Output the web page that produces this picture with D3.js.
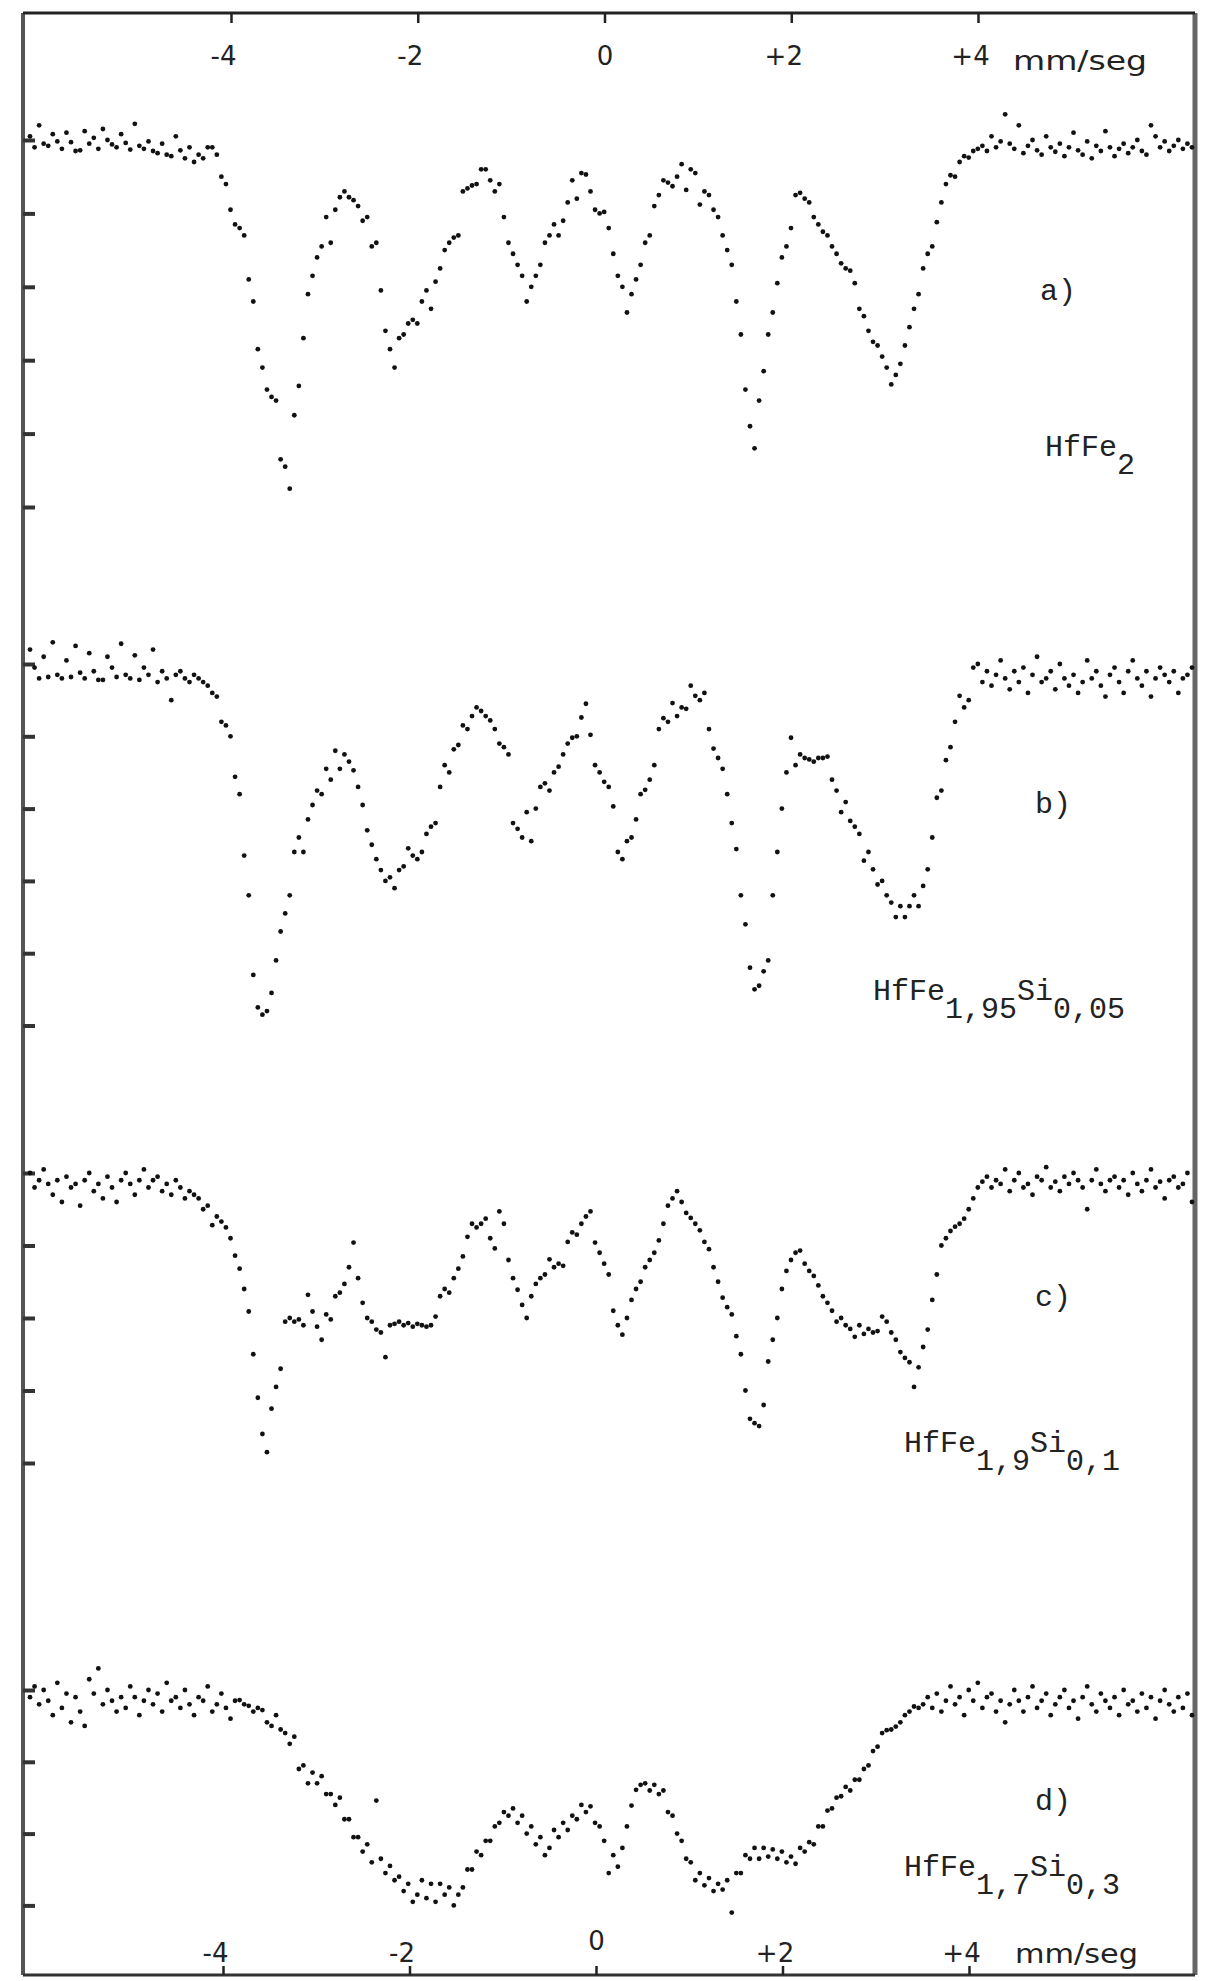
<!DOCTYPE html>
<html>
<head>
<meta charset="utf-8">
<script src="https://cdn.jsdelivr.net/npm/d3@7"></script>
<style>
  body { margin: 0; background: #fff; }
  .hand { font-family: "DejaVu Sans", sans-serif; font-size: 26px; fill: #222; }
  .type { font-family: "Liberation Mono", monospace; font-size: 30px; fill: #222; }
</style>
</head>
<body>
<div id="chart"></div>
<script>
/* global d3 */

// velocity scale, mm/seg
const velTicks = [-4, -2, 0, 2, 4]

// absorption below the baseline, one value per channel (tick marks = 1 unit)
const absA = [
  -0.05, 0.1, -0.2, 0.05, 0.08, -0.08, 0.02, 0.12, -0.1, 0.03,
  0.15, 0.14, -0.12, 0.05, -0.03, 0.12, -0.15, 0.0, 0.06, 0.1,
  -0.08, 0.04, 0.13, -0.22, 0.08, 0.12, 0.02, 0.15, 0.18, 0.05,
  0.2, 0.22, -0.05, 0.14, 0.25, 0.1, 0.3, 0.2, 0.25, 0.1,
  0.1, 0.2, 0.5, 0.6, 0.95, 1.15, 1.2, 1.3, 1.9, 2.2,
  2.85, 3.1, 3.4, 3.5, 3.55, 4.35, 4.45, 4.75, 3.75, 3.35,
  2.7, 2.1, 1.85, 1.6, 1.45, 1.05, 1.4, 0.95, 0.78, 0.7,
  0.78, 0.82, 0.9, 1.1, 1.05, 1.45, 1.4, 2.05, 2.6, 2.85,
  3.1, 2.7, 2.65, 2.5, 2.45, 2.5, 2.2, 2.05, 2.3, 1.93,
  1.75, 1.5, 1.4, 1.33, 1.3, 0.7, 0.66, 0.62, 0.6, 0.4,
  0.4, 0.55, 0.7, 0.6, 1.05, 1.4, 1.55, 1.7, 1.85, 2.2,
  2.0, 1.85, 1.7, 1.4, 1.3, 1.15, 1.3, 1.1, 0.85, 0.55,
  0.8, 0.45, 0.47, 0.7, 0.95, 1.0, 0.98, 1.2, 1.55, 1.85,
  2.0, 2.35, 2.1, 1.9, 1.7, 1.4, 1.3, 0.9, 0.75, 0.55,
  0.58, 0.63, 0.5, 0.33, 0.68, 0.4, 0.45, 0.88, 0.7, 0.75,
  0.95, 1.05, 1.3, 1.5, 1.7, 2.2, 2.65, 3.4, 3.9, 4.2,
  3.55, 3.15, 2.65, 2.35, 1.95, 1.6, 1.45, 1.2, 0.75, 0.72,
  0.8, 0.85, 1.05, 1.15, 1.25, 1.3, 1.45, 1.55, 1.68, 1.75,
  1.78, 1.95, 2.3, 2.4, 2.6, 2.75, 2.8, 2.95, 3.1, 3.33,
  3.2, 3.05, 2.8, 2.55, 2.3, 2.1, 1.75, 1.55, 1.45, 1.12,
  0.85, 0.6, 0.48, 0.5, 0.3, 0.22, 0.24, 0.15,
  0.12, 0.08, 0.15, -0.05, 0.1, 0.02, -0.35, 0.05, 0.12, -0.2,
  0.18, 0.08, 0.0, 0.14, 0.2, -0.05, 0.1, 0.16, 0.05, 0.22,
  0.1, -0.1, 0.14, 0.2, 0.02, 0.25, 0.08, 0.15, -0.12, 0.1,
  0.22, 0.12, 0.05, 0.18, 0.1, 0.0, 0.15, 0.2, -0.2, -0.05,
  0.1, 0.02, 0.15, 0.08, 0.0, 0.12, 0.05, 0.1
]

const absB = [
  -0.2, 0.05, 0.2, -0.1, 0.18, -0.3, 0.15, 0.2, -0.05, 0.18,
  -0.25, 0.12, 0.2, -0.15, 0.1, 0.22, 0.22, -0.1, 0.05, 0.18,
  -0.28, 0.15, 0.2, -0.12, 0.22, 0.05, 0.15, -0.2, 0.25, 0.1,
  0.2, 0.5,
  0.15, 0.1, 0.2, 0.25, 0.15, 0.2, 0.25, 0.3, 0.4, 0.45,
  0.8, 0.85, 1.0, 1.56, 1.8, 2.65, 3.2, 4.3, 4.75, 4.85,
  4.8, 4.55, 4.1, 3.7, 3.45, 3.2, 2.6, 2.4, 2.6, 2.15,
  1.95, 1.75, 1.8, 1.45, 1.6, 1.2, 1.45, 1.25, 1.35, 1.47,
  1.7, 1.95, 2.3, 2.5, 2.7, 2.85, 3.0, 2.95, 3.1, 2.85,
  2.8, 2.55, 2.65, 2.7, 2.6, 2.35, 2.25, 2.2, 1.7, 1.4,
  1.5, 1.18, 1.12, 0.85, 0.9, 0.72, 0.6, 0.65, 0.72, 0.78,
  0.9, 1.1, 1.15, 1.25, 2.2, 2.28, 2.4, 2.05, 2.45, 2.0,
  1.7, 1.65, 1.75, 1.5, 1.42, 1.25, 1.1, 1.02, 1.0, 0.74,
  0.55, 0.98, 1.4, 1.5, 1.63, 1.7, 1.97, 2.6, 2.7, 2.45,
  2.4, 2.15, 1.8, 1.74, 1.6, 1.4, 0.9, 0.75, 0.8, 0.54,
  0.72, 0.6, 0.62, 0.3, 0.44, 0.5, 0.4, 0.9, 1.17, 1.3,
  1.45, 1.8, 2.2, 2.56, 3.2, 3.6, 4.2, 4.5, 4.45, 4.25,
  4.1, 3.2, 2.6, 2.0, 1.5, 1.02, 1.4, 1.25, 1.3, 1.32,
  1.35, 1.3, 1.3, 1.28, 1.6, 1.75, 2.05, 1.91, 2.17, 2.25,
  2.35, 2.72, 2.6, 2.84, 3.05, 3.0, 3.2, 3.3, 3.5, 3.35,
  3.5, 3.35, 3.2, 3.35, 3.07, 2.84, 2.4, 1.85, 1.75, 1.33,
  1.15, 0.8, 0.44, 0.6, 0.5, 0.05,
  0.0, 0.25, 0.1, 0.3, 0.15, -0.05, 0.2, 0.35, 0.1, 0.25,
  0.05, 0.4, 0.15, -0.1, 0.25, 0.2, 0.1, 0.35, 0.0, 0.2,
  0.3, 0.15, 0.4, 0.25, -0.05, 0.2, 0.1, 0.3, 0.45, 0.15,
  0.05, 0.25, 0.4, 0.1, -0.05, 0.2, 0.3, 0.1, 0.45, 0.2,
  0.05, 0.15, 0.25, 0.1, 0.4, 0.2, 0.15, 0.05
]

const absC = [
  0.0, 0.2, 0.1, -0.05, 0.15, 0.3, 0.1, 0.4, 0.05, 0.2,
  0.15, 0.45, 0.1, 0.0, 0.25, 0.15, 0.35, 0.05, 0.2, 0.4,
  0.1, 0.0, 0.15, 0.3, 0.1, -0.05, 0.2, 0.1, 0.05, 0.25,
  0.15, 0.3, 0.1, 0.2, 0.35, 0.25,
  0.3, 0.35, 0.5, 0.45, 0.72, 0.6, 0.67, 0.75, 0.9, 1.14,
  1.32, 1.6, 1.91, 2.5, 3.1, 3.6, 3.85, 3.25, 2.95, 2.7,
  2.05, 2.0, 2.05, 2.02, 2.1, 1.68, 1.91, 2.12, 2.3, 1.95,
  2.02, 1.7, 1.65, 1.53, 1.3, 0.96, 1.45, 1.79, 2.0, 2.05,
  2.16, 2.2, 2.54, 2.1, 2.08, 2.05, 2.1, 2.07, 2.12, 2.08,
  2.1, 2.12, 2.1, 1.98, 1.7, 1.6, 1.65, 1.45, 1.32, 1.15,
  0.88, 0.7, 0.75, 0.7, 0.63, 0.9, 1.04, 0.53, 0.7, 1.2,
  1.45, 1.61, 1.82, 2.0, 1.7, 1.53, 1.45, 1.4, 1.19, 1.3,
  1.25, 1.28, 0.95, 0.82, 0.85, 0.7, 0.6, 0.53, 0.96, 1.1,
  1.25, 1.4, 1.9, 2.1, 2.23, 2.0, 1.75, 1.6, 1.5, 1.3,
  1.2, 1.1, 0.93, 0.7, 0.45, 0.35, 0.25, 0.4, 0.55, 0.62,
  0.7, 0.79, 0.95, 1.05, 1.3, 1.5, 1.72, 1.85, 1.95, 2.25,
  2.5, 3.0, 3.39, 3.45, 3.49, 3.2, 2.6, 2.3, 2.0, 1.6,
  1.35, 1.2, 1.1, 1.07, 1.25, 1.35, 1.42, 1.55, 1.7, 1.79,
  1.9, 2.05, 2.0, 2.1, 2.15, 2.26, 2.1, 2.22, 2.15, 2.2,
  2.18, 1.98, 2.05, 2.2, 2.3, 2.47, 2.55, 2.61, 2.95, 2.68,
  2.4, 2.16, 1.75, 1.4, 1.0, 0.9, 0.8, 0.74, 0.7, 0.63,
  0.5, 0.35, 0.2, 0.12,
  0.05, 0.2, 0.1, 0.15, -0.05, 0.25, 0.1, 0.0, 0.2, 0.15,
  0.3, 0.05, 0.1, -0.08, 0.2, 0.12, 0.25, 0.05, 0.15, 0.0,
  0.1, 0.2, 0.5, 0.1, -0.05, 0.15, 0.25, 0.1, 0.05, 0.2,
  0.1, 0.3, 0.0, 0.15, 0.25, 0.1, -0.05, 0.2, 0.12, 0.35,
  0.1, 0.05, 0.2, 0.15, 0.0, 0.4
]

const absD = [
  0.1, -0.05, 0.2, 0.0, 0.15, 0.35, -0.1, 0.25, 0.05, 0.45,
  0.1, 0.3, 0.5, -0.15, 0.05, -0.3, 0.2, 0.0, 0.15, 0.3,
  0.1, 0.25, -0.05, 0.1, 0.35, 0.15, 0.0, 0.2, 0.05, 0.3,
  -0.1, 0.15, 0.1, 0.25, 0.0, 0.2, 0.35, 0.1, 0.15, -0.05,
  0.3, 0.2, 0.05, 0.25, 0.4, 0.15,
  0.14, 0.2, 0.22, 0.3, 0.25, 0.28, 0.45, 0.5, 0.35, 0.55,
  0.6, 0.75, 0.65, 1.1, 1.05, 1.3, 1.15, 1.3, 1.2, 1.45,
  1.45, 1.6, 1.5, 1.8, 1.8, 2.05, 2.05, 2.25, 2.15, 2.4,
  1.54, 2.35, 2.55, 2.45, 2.65, 2.6, 2.8, 2.7, 2.95, 2.85,
  2.65, 2.9, 2.7, 2.95, 2.7, 2.85, 2.75, 3.0, 2.85, 2.75,
  2.5, 2.5, 2.25, 2.3, 2.1, 2.1, 1.9, 1.85, 1.7, 1.75,
  1.65, 1.85, 1.75, 2.0, 1.9, 2.15, 2.05, 2.3, 2.2, 1.95,
  2.05, 1.85, 1.95, 1.75, 1.8, 1.6, 1.7, 1.62, 1.85, 1.9,
  2.1, 2.55, 2.3, 2.46, 2.2, 1.9, 1.61, 1.39, 1.32, 1.3,
  1.4, 1.32, 1.45, 1.4, 1.7, 1.75, 2.0, 2.1, 2.35, 2.4,
  2.65, 2.55, 2.72, 2.62, 2.8, 2.7, 2.78, 2.65, 3.1, 2.55,
  2.55, 2.3, 2.35, 2.2, 2.35, 2.2, 2.32, 2.22, 2.35, 2.25,
  2.4, 2.32, 2.42, 2.2, 2.25, 2.12, 2.15, 1.9, 1.9, 1.68,
  1.65, 1.5, 1.48, 1.35, 1.4, 1.25, 1.25, 1.1, 1.05, 0.85,
  0.79, 0.6, 0.56, 0.55, 0.51, 0.45, 0.35, 0.3, 0.23, 0.25, 0.2,
  0.1, 0.25, 0.05, 0.3, 0.15, -0.05, 0.2, 0.1, 0.35, 0.0,
  0.15, -0.1, 0.25, 0.1, 0.05, 0.3, 0.15, 0.45, 0.2, 0.0,
  0.15, 0.3, 0.1, -0.05, 0.25, 0.15, 0.05, 0.35, 0.2, 0.1,
  0.0, 0.25, 0.15, 0.4, 0.1, -0.05, 0.2, 0.3, 0.05, 0.15,
  0.25, 0.1, 0.35, 0.0, 0.2, 0.15, 0.3, 0.05, 0.25, 0.1,
  0.4, 0.15, 0.0, 0.2, 0.3, 0.1, 0.25, 0.05, 0.35
]

const panelLetters = ['a)', 'b)', 'c)', 'd)']
// formula pieces, alternating normal / subscript
const sampleNames = [
  ['HfFe', '2'],
  ['HfFe', '1,95', 'Si', '0,05'],
  ['HfFe', '1,9', 'Si', '0,1'],
  ['HfFe', '1,7', 'Si', '0,3']
]
const unitLabel = 'mm/seg'

// Our canvas
const width = 1206,
  height = 1981
const frame = { left: 23, right: 1195, top: 13, bottom: 1975 }

// where each spectrum sits on the page
const panels = [
  { data: absA, y0: 140, step: 73.4, nTicks: 6, letter: [1040, 300], name: [1045, 456] },
  { data: absB, y0: 664, step: 72.3, nTicks: 6, letter: [1035, 813], name: [873, 1000] },
  { data: absC, y0: 1173, step: 72.5, nTicks: 5, letter: [1035, 1306], name: [904, 1452] },
  { data: absD, y0: 1690, step: 71.8, nTicks: 4, letter: [1035, 1810], name: [904, 1876] }
]

let svg = d3.select('#chart')
  .append('svg')
  .attr('width', width)
  .attr('height', height)
  .style('background', '#fff')

// frame
svg.append('line').attr('x1', frame.left).attr('x2', frame.left)
  .attr('y1', frame.top).attr('y2', frame.bottom)
  .attr('stroke', '#555').attr('stroke-width', 4)
svg.append('line').attr('x1', frame.right).attr('x2', frame.right)
  .attr('y1', frame.top).attr('y2', frame.bottom)
  .attr('stroke', '#666').attr('stroke-width', 5)
svg.append('line').attr('x1', frame.left).attr('x2', frame.right)
  .attr('y1', frame.top).attr('y2', frame.top)
  .attr('stroke', '#222').attr('stroke-width', 3)
svg.append('line').attr('x1', frame.left).attr('x2', frame.right)
  .attr('y1', frame.bottom).attr('y2', frame.bottom)
  .attr('stroke', '#333').attr('stroke-width', 3)

// velocity axes (hand drawn, top and bottom slightly offset)
const velFmt = (d) => d > 0 ? '+' + d : (d < 0 ? '-' + Math.abs(d) : '0')
const xTop = d3.scaleLinear().domain([-4, 4]).range([231, 978])
const xBottom = d3.scaleLinear().domain([-4, 4]).range([223, 969])

let topAxis = svg.append('g')
  .attr('transform', `translate(0, ${frame.top})`)
  .call(d3.axisBottom(xTop).tickValues(velTicks).tickSize(10).tickPadding(24).tickFormat(velFmt))
let bottomAxis = svg.append('g')
  .attr('transform', `translate(0, ${frame.bottom})`)
  .call(d3.axisTop(xBottom).tickValues(velTicks).tickSize(9).tickPadding(4).tickFormat(velFmt))

;[topAxis, bottomAxis].forEach((g) => {
  g.select('.domain').remove()
  g.selectAll('line').attr('stroke', '#222').attr('stroke-width', 2.5)
  g.selectAll('text').attr('class', 'hand').attr('font-family', null).attr('font-size', null)
    .attr('dx', (d) => d === 0 ? 0 : -8)
})
bottomAxis.selectAll('text').filter((d) => d === 0).attr('dy', -12)

svg.append('text').attr('class', 'hand').attr('x', 1013).attr('y', 70)
  .attr('textLength', 134).attr('lengthAdjust', 'spacingAndGlyphs').text(unitLabel)
svg.append('text').attr('class', 'hand').attr('x', 1015).attr('y', 1963)
  .attr('textLength', 123).attr('lengthAdjust', 'spacingAndGlyphs').text(unitLabel)

// spectra
panels.forEach((p, k) => {
  const xScale = d3.scaleLinear()
    .domain([0, p.data.length - 1])
    .range([30, 1192])
  const yScale = d3.scaleLinear()
    .domain([0, 1])
    .range([p.y0, p.y0 + p.step])

  // little tick stubs on the left border
  let yAxis = svg.append('g')
    .attr('transform', `translate(${frame.left}, 0)`)
    .call(d3.axisRight(yScale).tickValues(d3.range(p.nTicks)).tickSize(12).tickFormat(''))
  yAxis.select('.domain').remove()
  yAxis.selectAll('line').attr('stroke', '#333').attr('stroke-width', 4)

  svg.append('g')
    .selectAll('circle')
    .data(p.data)
    .enter()
    .append('circle')
    .attr('cx', (d, i) => xScale(i))
    .attr('cy', (d) => yScale(d))
    .attr('r', 2.4)
    .attr('fill', '#111')

  svg.append('text').attr('class', 'type')
    .attr('x', p.letter[0]).attr('y', p.letter[1])
    .text(panelLetters[k])

  let name = svg.append('text').attr('class', 'type')
    .attr('x', p.name[0]).attr('y', p.name[1])
  sampleNames[k].forEach((part, j) => {
    name.append('tspan')
      .attr('dy', j === 0 ? 0 : (j % 2 === 1 ? 18 : -18))
      .text(part)
  })
})
</script>
</body>
</html>
